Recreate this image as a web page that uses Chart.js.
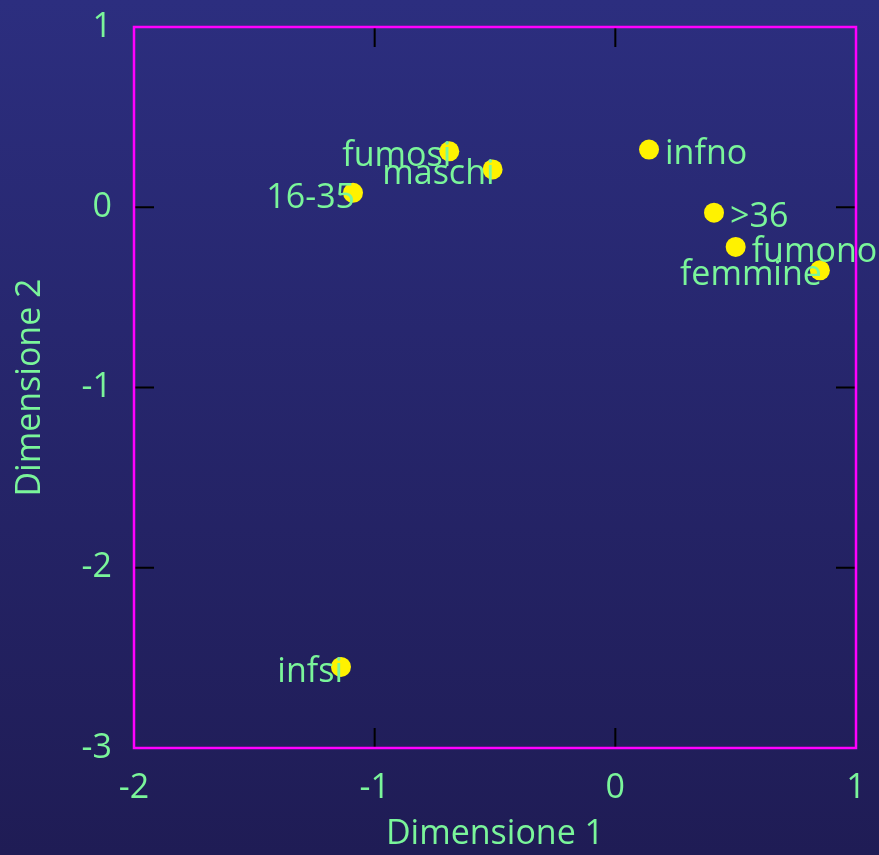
<!DOCTYPE html>
<html>
<head>
<meta charset="utf-8">
<script src="https://cdn.jsdelivr.net/npm/chart.js@4"></script>
<style>
  html, body { margin: 0; padding: 0; background: #23235f; }
  #wrap { width: 879px; height: 855px; }
</style>
</head>
<body>
<div id="wrap"><canvas id="mapChart" width="879" height="855"></canvas></div>
<script>
// categories and their coordinates on the two dimensions
const labels = ['fumosi', 'maschi', '16-35', 'infno', '>36', 'fumono', 'femmine', 'infsi'];
const dim1 = [-0.69, -0.51, -1.09, 0.14, 0.41, 0.50, 0.85, -1.14];
const dim2 = [0.31, 0.21, 0.08, 0.32, -0.03, -0.22, -0.35, -2.55];
const labelSide = ['left', 'left', 'left', 'right', 'right', 'right', 'left', 'left'];
const xTicks = [-2, -1, 0, 1];
const yTicks = [-3, -2, -1, 0, 1];

const green = '#7af59a';
const font = "'Open Sans', 'DejaVu Sans', sans-serif";

const background = {
  id: 'background',
  beforeDraw(chart) {
    const ctx = chart.ctx;
    const g = ctx.createLinearGradient(0, 0, 0, chart.height);
    g.addColorStop(0, '#2c2e7f');
    g.addColorStop(1, '#1f1c55');
    ctx.save();
    ctx.fillStyle = g;
    ctx.fillRect(0, 0, chart.width, chart.height);
    ctx.restore();
  }
};

// frame with inward ticks on all four sides
const frame = {
  id: 'frame',
  beforeDatasetsDraw(chart) {
    const { ctx, chartArea: a, scales: { x, y } } = chart;
    ctx.save();
    ctx.strokeStyle = '#000';
    ctx.lineWidth = 2;
    const len = 20;
    xTicks.forEach(v => {
      const px = x.getPixelForValue(v);
      ctx.beginPath();
      ctx.moveTo(px, a.top); ctx.lineTo(px, a.top + len);
      ctx.moveTo(px, a.bottom); ctx.lineTo(px, a.bottom - len);
      ctx.stroke();
    });
    yTicks.forEach(v => {
      const py = y.getPixelForValue(v);
      ctx.beginPath();
      ctx.moveTo(a.left, py); ctx.lineTo(a.left + len, py);
      ctx.moveTo(a.right, py); ctx.lineTo(a.right - len, py);
      ctx.stroke();
    });
    ctx.strokeStyle = '#ff00ff';
    ctx.lineWidth = 2.5;
    ctx.strokeRect(a.left, a.top, a.right - a.left, a.bottom - a.top);
    ctx.restore();
  }
};

const pointLabels = {
  id: 'pointLabels',
  afterDatasetsDraw(chart) {
    const { ctx, scales: { x, y } } = chart;
    ctx.save();
    ctx.font = '34px ' + font;
    ctx.fillStyle = green;
    ctx.textBaseline = 'middle';
    labels.forEach((t, i) => {
      const px = x.getPixelForValue(dim1[i]);
      const py = y.getPixelForValue(dim2[i]);
      if (labelSide[i] === 'right') {
        ctx.textAlign = 'left';
        ctx.fillText(t, px + 16, py + 5);
      } else {
        ctx.textAlign = 'right';
        ctx.fillText(t, px + 2, py + 5);
      }
    });
    ctx.restore();
  }
};

new Chart(document.getElementById('mapChart').getContext('2d'), {
  type: 'scatter',
  data: {
    datasets: [{
      label: 'Categorie',
      data: dim1.map((v, i) => ({ x: v, y: dim2[i] })),
      backgroundColor: '#fff200',
      borderWidth: 0,
      pointRadius: 10,
      pointHoverRadius: 10
    }]
  },
  options: {
    responsive: false,
    animation: false,
    layout: { padding: { top: 27, right: 23, left: 0, bottom: 0 } },
    plugins: {
      legend: { display: false },
      tooltip: { enabled: false }
    },
    scales: {
      x: {
        type: 'linear',
        min: -2, max: 1,
        afterBuildTicks: s => { s.ticks = xTicks.map(v => ({ value: v })); },
        afterFit: s => { s.height = 107; s.paddingLeft = 0; s.paddingRight = 0; },
        grid: { display: false },
        border: { display: false },
        ticks: { color: green, font: { family: font, size: 34 }, padding: 12 },
        title: {
          display: true, text: 'Dimensione 1', color: green,
          font: { family: font, size: 34 }, padding: { top: 0, bottom: 0 }
        }
      },
      y: {
        type: 'linear',
        min: -3, max: 1,
        afterBuildTicks: s => { s.ticks = yTicks.map(v => ({ value: v })); },
        afterFit: s => { s.width = 134; s.paddingTop = 0; s.paddingBottom = 0; },
        grid: { display: false },
        border: { display: false },
        ticks: { color: green, font: { family: font, size: 34 }, padding: 14 },
        title: {
          display: true, text: 'Dimensione 2', color: green,
          font: { family: font, size: 34 }, padding: { top: 10, bottom: 0 }
        }
      }
    }
  },
  plugins: [background, frame, pointLabels]
});
</script>
</body>
</html>
